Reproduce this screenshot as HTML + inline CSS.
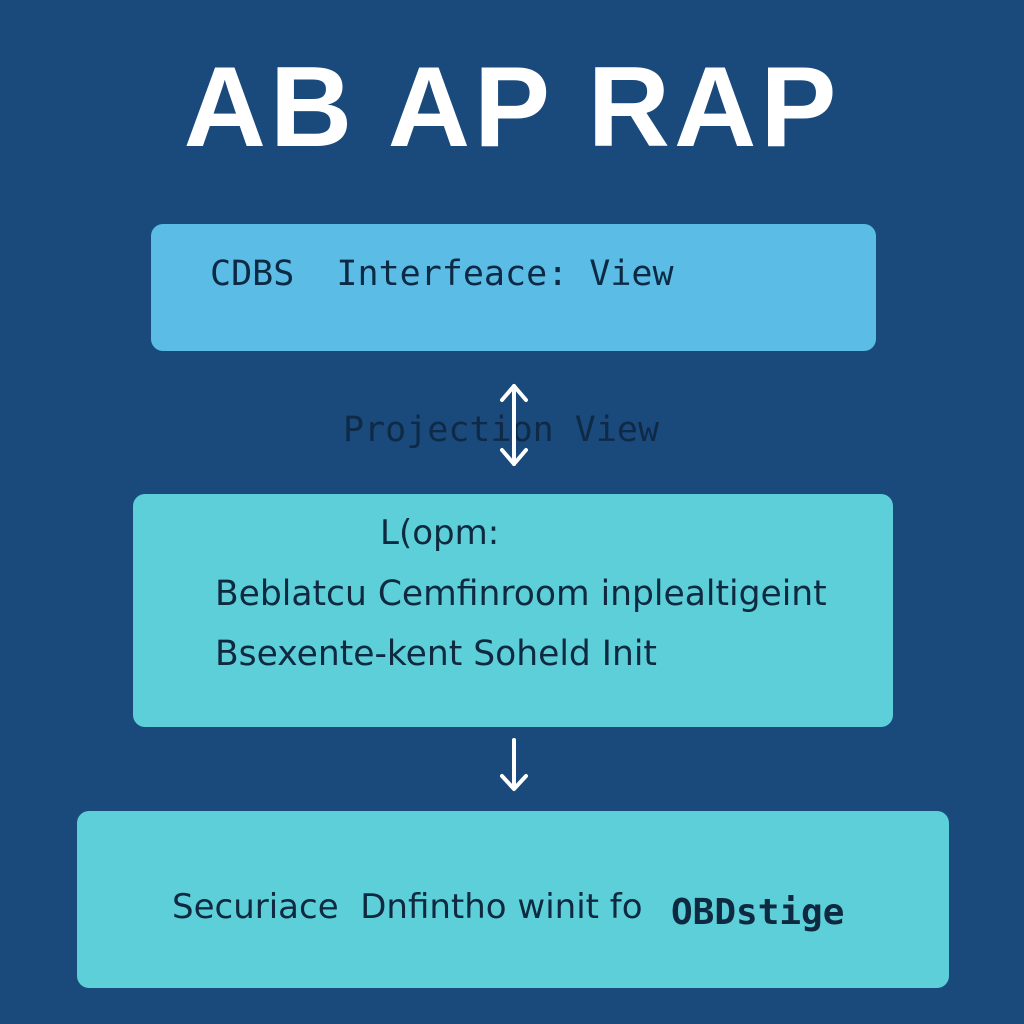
<!DOCTYPE html>
<html><head><style>
body{margin:0;width:1024px;height:1024px;background:#1a4a7c;position:relative;overflow:hidden;font-family:"Liberation Sans",sans-serif}
.t{position:absolute;white-space:nowrap}
.box{position:absolute;border-radius:12px}
.mono{font-family:"DejaVu Sans Mono","Liberation Mono",monospace}
.dj{font-family:"DejaVu Sans","Liberation Sans",sans-serif}
</style></head><body>
<div class="t" style="left:0;width:1024px;text-align:center;top:42px;font-size:114px;font-weight:bold;color:#fff;letter-spacing:4px">AB AP RAP</div>
<div class="box" style="left:151px;top:224px;width:725px;height:127px;background:#5bbde6"></div>
<div class="t mono" style="left:210px;top:254px;font-size:35px;color:#0d2a45">CDBS&nbsp; Interfeace: View</div>
<div class="t mono" style="left:343px;top:410px;font-size:35px;color:#0f2a46">Projection View</div>
<svg style="position:absolute;left:0;top:0" width="1024" height="1024">
<g stroke="#fff" stroke-width="4" fill="none" stroke-linecap="round" stroke-linejoin="round">
<line x1="514" y1="386" x2="514" y2="464"/>
<polyline points="502,400 514,386 526,400"/>
<polyline points="502,450 514,464 526,450"/>
<line x1="514" y1="740" x2="514" y2="788"/>
<polyline points="502,776 514,789 526,776"/>
</g></svg>
<div class="box" style="left:133px;top:494px;width:760px;height:233px;background:#5dcfd9"></div>
<div class="t dj" style="left:380px;top:513px;font-size:34px;color:#0f2a40">L(opm:</div>
<div class="t dj" style="left:215px;top:574px;font-size:34.5px;color:#0f2a40">Beblatcu Cemfinroom inplealtigeint</div>
<div class="t dj" style="left:215px;top:634px;font-size:34.5px;color:#0f2a40">Bsexente-kent Soheld Init</div>
<div class="box" style="left:77px;top:811px;width:872px;height:177px;background:#5dcfd9"></div>
<div class="t dj" style="left:172px;top:887px;font-size:34px;color:#0f2a40">Securiace&nbsp; Dnfintho winit fo</div>
<div class="t mono" style="left:671px;top:892px;font-size:36px;font-weight:bold;color:#0f2a40">OBDstige</div>
</body></html>
